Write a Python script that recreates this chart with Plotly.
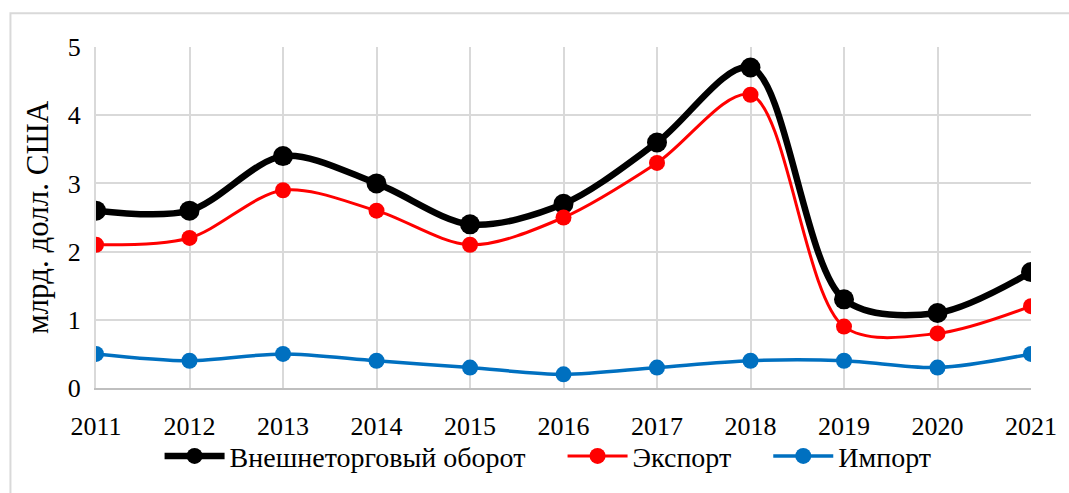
import plotly.graph_objects as go

years = [2011, 2012, 2013, 2014, 2015, 2016, 2017, 2018, 2019, 2020, 2021]
total = [2.6, 2.6, 3.4, 3.0, 2.4, 2.7, 3.6, 4.7, 1.3, 1.1, 1.7]
export = [2.1, 2.2, 2.9, 2.6, 2.1, 2.5, 3.3, 4.3, 0.9, 0.8, 1.2]
imports = [0.5, 0.4, 0.5, 0.4, 0.3, 0.2, 0.3, 0.4, 0.4, 0.3, 0.5]
names = ["Внешнеторговый оборот", "Экспорт", "Импорт"]
colors = ["#000000", "#ff0000", "#0070c0"]

font_family = "Liberation Serif, Times New Roman, serif"

fig = go.Figure()
series = [total, export, imports]
widths = [6.5, 3, 3.5]
msizes = [20, 16, 16]
legend_ids = ["legend", "legend2", "legend3"]
for vals, name, col, w, ms, lg in zip(series, names, colors, widths, msizes, legend_ids):
    fig.add_trace(go.Scatter(
        x=years, y=vals, name=name, mode="lines+markers", legend=lg,
        line=dict(color=col, width=w, shape="spline", smoothing=0.9),
        marker=dict(color=col, size=ms),
    ))

leg_common = dict(orientation="h", xanchor="left", y=-0.2, yanchor="middle",
                  font=dict(size=28, family=font_family), itemwidth=60,
                  bgcolor="rgba(0,0,0,0)")

fig.update_layout(
    width=1069, height=493,
    margin=dict(l=96, r=33, t=47, b=102),
    paper_bgcolor="white", plot_bgcolor="white",
    font=dict(family=font_family, size=26, color="#000000"),
    showlegend=True,
    legend=dict(x=0.068, **leg_common),
    legend2=dict(x=0.499, **leg_common),
    legend3=dict(x=0.719, **leg_common),
    shapes=[dict(type="rect", xref="paper", yref="paper",
                 x0=-0.0915, x1=1.1, y0=-0.4, y1=1.099,
                 line=dict(color="#d9d9d9", width=2), layer="below")],
)
fig.update_xaxes(
    range=[2011, 2021], tickvals=years, ticktext=[str(y) for y in years],
    showgrid=True, gridcolor="#d9d9d9", gridwidth=2,
    showline=True, linecolor="#bfbfbf", linewidth=2, zeroline=False,
    ticks="", ticklabelstandoff=14,
)
fig.update_yaxes(
    range=[0, 5], dtick=1, showgrid=True, gridcolor="#d9d9d9", gridwidth=2,
    zeroline=False, showline=True, linecolor="#d9d9d9", linewidth=2,
    ticks="", ticklabelstandoff=8,
    title=dict(text="млрд. долл. США", font=dict(size=31), standoff=10),
)

fig.write_html("out.html", config={"displayModeBar": False},
               post_script="document.body.style.margin='0';")
